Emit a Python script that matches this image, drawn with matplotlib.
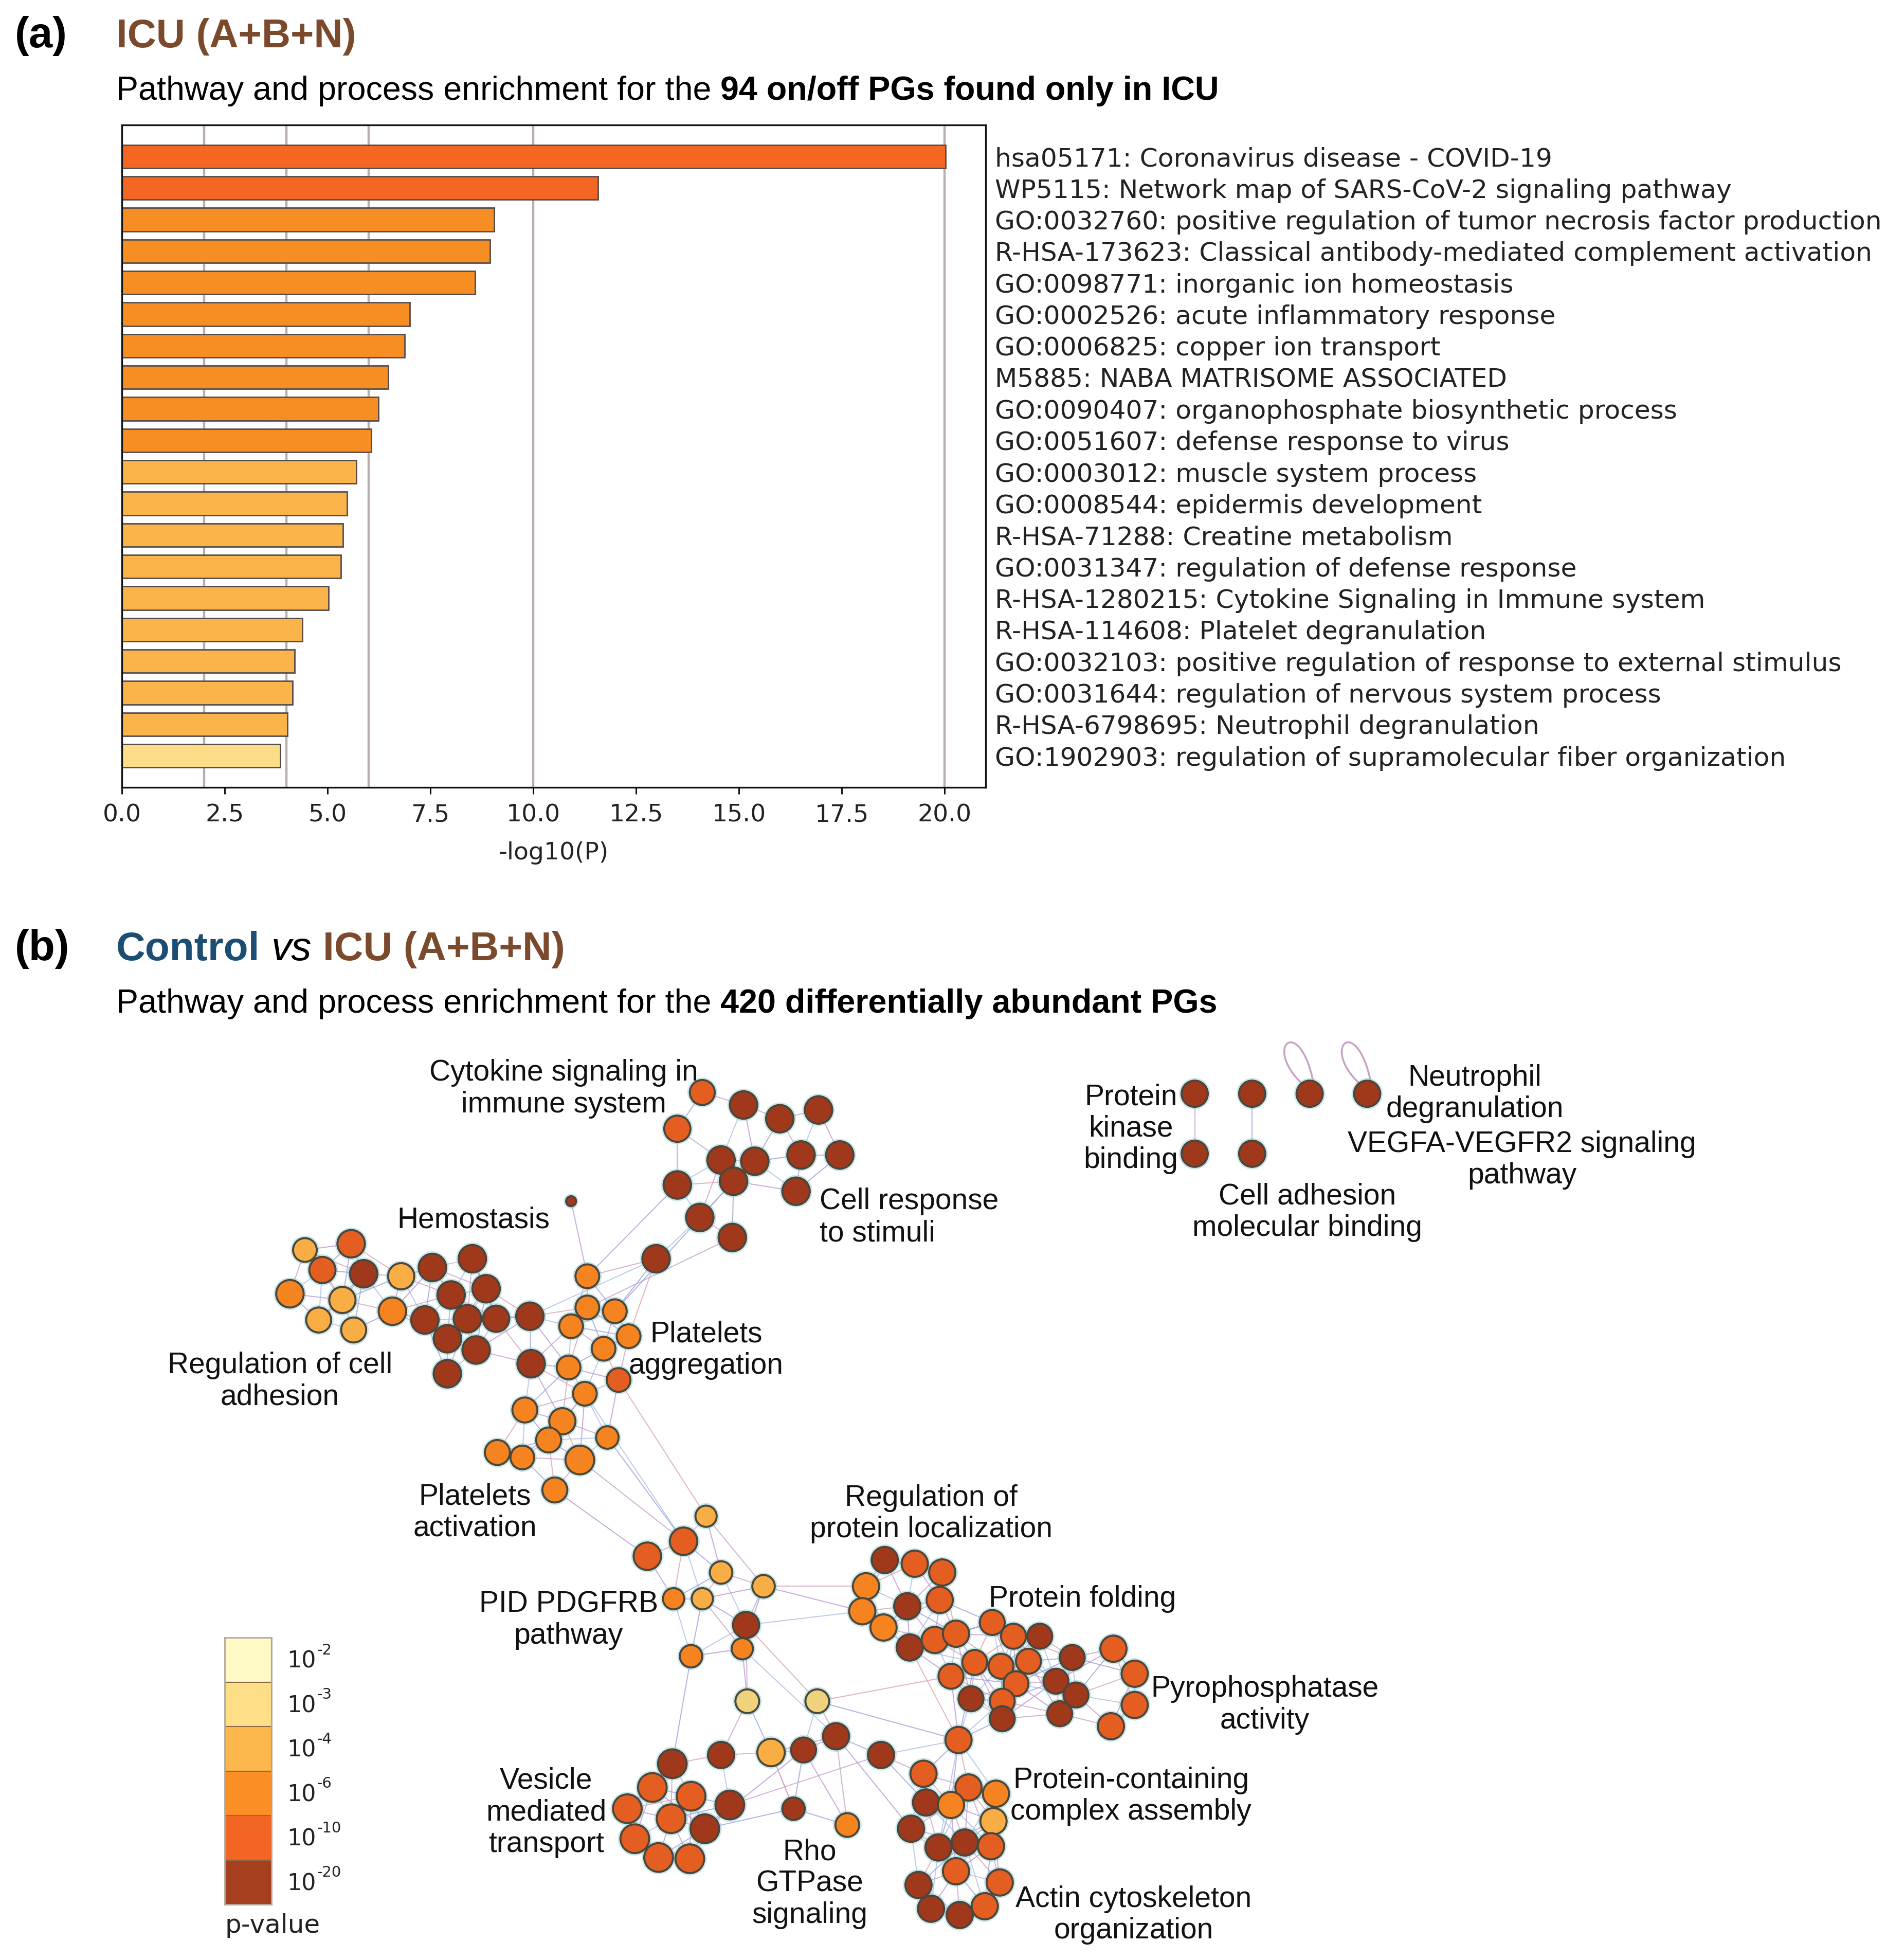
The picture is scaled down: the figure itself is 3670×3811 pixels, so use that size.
import numpy as np
import matplotlib
matplotlib.use("Agg")
import matplotlib.pyplot as plt
from matplotlib.path import Path
from matplotlib.patches import PathPatch, Rectangle
from matplotlib.collections import LineCollection
from matplotlib.ticker import FormatStrFormatter

# ------------------------------------------------------------------ data (a)
terms = [
    "hsa05171: Coronavirus disease - COVID-19",
    "WP5115: Network map of SARS-CoV-2 signaling pathway",
    "GO:0032760: positive regulation of tumor necrosis factor production",
    "R-HSA-173623: Classical antibody-mediated complement activation",
    "GO:0098771: inorganic ion homeostasis",
    "GO:0002526: acute inflammatory response",
    "GO:0006825: copper ion transport",
    "M5885: NABA MATRISOME ASSOCIATED",
    "GO:0090407: organophosphate biosynthetic process",
    "GO:0051607: defense response to virus",
    "GO:0003012: muscle system process",
    "GO:0008544: epidermis development",
    "R-HSA-71288: Creatine metabolism",
    "GO:0031347: regulation of defense response",
    "R-HSA-1280215: Cytokine Signaling in Immune system",
    "R-HSA-114608: Platelet degranulation",
    "GO:0032103: positive regulation of response to external stimulus",
    "GO:0031644: regulation of nervous system process",
    "R-HSA-6798695: Neutrophil degranulation",
    "GO:1902903: regulation of supramolecular fiber organization",
]
neglogp = [20.03, 11.58, 9.05, 8.95, 8.59, 7.00, 6.88, 6.47, 6.24, 6.06,
           5.70, 5.47, 5.38, 5.33, 5.02, 4.39, 4.20, 4.15, 4.02, 3.85]
xtick_values = [0.0, 2.5, 5.0, 7.5, 10.0, 12.5, 15.0, 17.5, 20.0]
grid_levels = [2, 4, 6, 10, 20]

# ------------------------------------------------------------------ data (b)
# network layout coordinates (layout units) and p-value class of each term node
# classes: D=1e-20, R=1e-10, O=1e-6, L=1e-4, Y=1e-3
node_group = (["A"] * 15 + ["dot"] + ["B"] * 22 + ["C"] * 9 + ["D"] * 8 + ["E"] * 10 +
              ["F"] * 7 + ["G"] * 10 + ["H"] * 2 + ["I"] * 11 + ["J"] * 15 + ["K"] * 4 +
              ["hub"] + ["M"] * 16 + ["N"] * 6)
node_x = [562, 595, 624, 655, 542, 577, 604, 641, 672, 542, 587, 637, 560, 586, 525,
          457,
          244, 281, 232, 258, 291, 274, 255, 283, 321, 314, 346, 378, 361, 389, 340, 374, 397, 358, 381, 358, 424, 425,
          470, 470, 492, 457, 503, 483, 455, 495, 468,
          420, 450, 439, 486, 398, 418, 464, 444,
          565, 547, 518, 577, 611, 539, 562, 597, 594, 553,
          598, 654, 669, 577, 617, 643, 705,
          538, 522, 553, 584, 502, 537, 564, 508, 527, 552,
          635, 678,
          708, 732, 754, 693, 726, 752, 690, 707, 728, 748, 765,
          794, 811, 832, 780, 801, 823, 761, 777, 813, 802, 802, 858, 845, 861, 848,
          891, 908, 908, 889,
          767,
          739, 775, 797, 741, 761, 795, 729, 751, 772, 793, 765, 735, 800, 745, 768, 788,
          956, 1002, 1048, 1094, 956, 1002]
node_y = [874, 884, 895, 888, 903, 928, 929, 924, 924, 948, 945, 953, 974, 990, 1007,
          961,
          1000, 995, 1035, 1016, 1019, 1040, 1056, 1064, 1021, 1049, 1014, 1007, 1036, 1031, 1056, 1055, 1055, 1071, 1080, 1099, 1053, 1091,
          1021, 1046, 1049, 1061, 1069, 1079, 1094, 1104, 1115,
          1128, 1137, 1152, 1150, 1162, 1166, 1168, 1192,
          1213, 1233, 1245, 1258, 1269, 1279, 1279, 1300, 1319, 1325,
          1361, 1361, 1389, 1404, 1402, 1400, 1404,
          1411, 1430, 1437, 1444, 1447, 1455, 1463, 1471, 1486, 1487,
          1447, 1460,
          1248, 1251, 1258, 1269, 1285, 1280, 1289, 1302, 1318, 1312, 1307,
          1298, 1309, 1309, 1330, 1333, 1329, 1341, 1359, 1347, 1361, 1375, 1326, 1345, 1356, 1371,
          1319, 1339, 1364, 1381,
          1392,
          1419, 1430, 1435, 1442, 1444, 1457, 1463, 1478, 1474, 1477, 1497, 1508, 1506, 1527, 1532, 1525,
          875, 875, 875, 875, 923, 923]
node_pclass = list("RDDDRDDDDDDDDDD" + "D" +
                   "LRORDLLLLODDDDDDDDDDDD" + "OOOOOOORO" + "OOOOOOOO" +
                   "LRRLLOLDOO" + "YYDDLDD" + "DRRDRRDRRR" + "DO" +
                   "DRRODROODRR" + "RRDRRRRDRRDDDDD" + "RRRR" + "R" +
                   "RRODOLDDDRRDRDDR" + "DDDDDD")
node_size = ([20, 22, 22, 22, 21, 22, 22, 22, 22, 22, 22, 22, 22, 22, 22] + [8] +
             [19, 22, 22, 21, 22, 21, 20, 20, 21, 22, 22, 22, 22, 22, 22, 22, 21, 22, 22, 22, 22, 22] +
             [19] * 9 + [20, 21, 20, 18, 20, 19, 23, 20] +
             [17, 22, 22, 18, 18, 17, 17, 21, 17, 18] + [19, 19, 21, 21, 22, 20, 21] +
             [23] * 10 + [18, 19] + [21] * 11 + [20] * 15 + [21] * 4 + [21] + [21] * 16 +
             [21] * 6)

# long-range network edges: (group, index, group, index)
long_edges = [
    ("dot", 0, "C", 0), ("A", 14, "C", 0), ("A", 14, "C", 2), ("A", 14, "C", 4),
    ("A", 14, "B", 20), ("A", 9, "C", 0), ("A", 13, "C", 1), ("A", 10, "C", 2),
    ("C", 7, "E", 0), ("C", 8, "E", 1), ("D", 7, "E", 2), ("D", 6, "E", 1), ("D", 3, "E", 1),
    ("E", 4, "I", 3), ("E", 7, "I", 6), ("E", 4, "I", 6), ("E", 0, "E", 4),
    ("E", 9, "G", 0), ("E", 7, "F", 1), ("E", 8, "F", 2), ("E", 8, "F", 0), ("E", 7, "F", 0),
    ("F", 1, "hub", 0), ("F", 1, "J", 6), ("F", 6, "hub", 0), ("F", 2, "M", 6), ("F", 6, "M", 0),
    ("F", 6, "M", 3), ("F", 3, "G", 0), ("F", 3, "G", 3), ("F", 5, "G", 6), ("G", 3, "F", 6),
    ("G", 6, "H", 0), ("H", 0, "F", 4), ("H", 0, "F", 5), ("H", 1, "F", 5), ("H", 1, "F", 2),
    ("hub", 0, "J", 3), ("hub", 0, "I", 8), ("hub", 0, "M", 7), ("I", 10, "J", 0),
    ("N", 0, "N", 4), ("N", 1, "N", 5),
]
self_loops = [("N", 2), ("N", 3)]
proximity_sets = [["A"], ["B", "C", "D", "dot"], ["E"], ["F", "H"], ["G"],
                  ["I", "J", "K", "hub", "M"]]

cluster_labels = [
    ("Cytokine signaling in\nimmune system", 451, 871, "center"),
    ("Hemostasis", 379, 976, "center"),
    ("Cell response\nto stimuli", 656, 974, "left"),
    ("Regulation of cell\nadhesion", 224, 1105, "center"),
    ("Platelets\naggregation", 565, 1080, "center"),
    ("Platelets\nactivation", 380, 1210, "center"),
    ("Regulation of\nprotein localization", 745, 1211, "center"),
    ("Protein folding", 866, 1279, "center"),
    ("PID PDGFRB\npathway", 455, 1296, "center"),
    ("Pyrophosphatase\nactivity", 1012, 1364, "center"),
    ("Vesicle\nmediated\ntransport", 437, 1450, "center"),
    ("Rho\nGTPase\nsignaling", 648, 1507, "center"),
    ("Protein-containing\ncomplex assembly", 905, 1437, "center"),
    ("Actin cytoskeleton\norganization", 907, 1532, "center"),
    ("Protein\nkinase\nbinding", 905, 903, "center"),
    ("Cell adhesion\nmolecular binding", 1046, 970, "center"),
    ("Neutrophil\ndegranulation", 1180, 875, "center"),
    ("VEGFA-VEGFR2 signaling\npathway", 1218, 928, "center"),
]
legend_exponents = ["-2", "-3", "-4", "-6", "-10", "-20"]

# ------------------------------------------------------------------ styles
legend_colors = ["#FFF9C5", "#FEDF87", "#FDB84D", "#FB8E25", "#F26522", "#A63F1E"]
node_colors = {"D": "#A0381C", "R": "#E35E20", "O": "#F5831F", "L": "#F9AE45", "Y": "#F0D27C"}
BROWN = "#7B4A2D"
BLUE = "#1C4E73"
TXT_FONT = ["Liberation Sans", "DejaVu Sans"]

W, H = 3670, 3811
DPI = 100
fig = plt.figure(figsize=(W / DPI, H / DPI), dpi=DPI)
fig.patch.set_facecolor("white")

# layout axes spanning the whole figure (layout units: 1510 x 1568)
LW_, LH_ = 1510.0, 3811 * 1510.0 / 3670
axn = fig.add_axes([0, 0, 1, 1])
axn.set_xlim(0, LW_)
axn.set_ylim(LH_, 0)
axn.axis("off")
axn.patch.set_alpha(0)

renderer = fig.canvas.get_renderer()
px_per_unit = W / LW_


def rich_text(ax, x, y, parts, size):
    gap = 0.278 * size * DPI / 72 / px_per_unit
    for s, props in parts:
        t = ax.text(x, y, s, fontsize=size, va="baseline", ha="left",
                    family=TXT_FONT, **props)
        bb = t.get_window_extent(renderer)
        x = ax.transData.inverted().transform((bb.x1, bb.y0))[0] + gap


# ---- headers
axn.text(12, 38, "(a)", fontsize=60, fontweight="bold", family=TXT_FONT, va="baseline")
rich_text(axn, 93, 38, [("ICU (A+B+N)", dict(fontweight="bold", color=BROWN))], 56)
rich_text(axn, 93, 80, [("Pathway and process enrichment for the", {}),
                        ("94 on/off PGs found only in ICU", dict(fontweight="bold"))], 46.5)
axn.text(12, 768, "(b)", fontsize=60, fontweight="bold", family=TXT_FONT, va="baseline")
rich_text(axn, 93, 768, [("Control", dict(fontweight="bold", color=BLUE)),
                         ("vs", dict(style="italic")),
                         ("ICU (A+B+N)", dict(fontweight="bold", color=BROWN))], 56.5)
rich_text(axn, 93, 810, [("Pathway and process enrichment for the", {}),
                         ("420 differentially abundant PGs", dict(fontweight="bold"))], 46.5)

# ---- panel (a) bar chart
ax = fig.add_axes([237 / W, 1 - 1531 / H, 1680 / W, 1288 / H])
bar_cols = []
for v in neglogp:
    if v >= 10:
        bar_cols.append("#F36723")
    elif v >= 6:
        bar_cols.append("#F78E24")
    elif v >= 4:
        bar_cols.append("#FBB449")
    else:
        bar_cols.append("#FDDE88")
ypos = np.arange(len(terms))
for g in grid_levels:
    ax.axvline(g, color="#B9B0AE", lw=3.2, zorder=0)
ax.barh(ypos, neglogp, height=0.74, color=bar_cols, edgecolor="#554B4B", linewidth=2.0, zorder=2)
ax.set_xlim(0, 21)
ax.set_ylim(len(terms), -1)
ax.set_yticks(ypos)
ax.set_yticklabels(terms, fontsize=36.2, family="DejaVu Sans", color="#222222")
ax.yaxis.tick_right()
ax.tick_params(axis="y", length=0, pad=13)
ax.set_xticks(xtick_values)
ax.xaxis.set_major_formatter(FormatStrFormatter("%.1f"))
ax.tick_params(axis="x", labelsize=34, length=9, width=2, pad=14, labelcolor="#222222")
for lab in ax.get_xticklabels():
    lab.set_family("DejaVu Sans")
ax.set_xlabel("-log10(P)", fontsize=34, family="DejaVu Sans", labelpad=20, color="#222222")
for sp in ax.spines.values():
    sp.set_linewidth(2.4)
    sp.set_color("#111111")

# ---- panel (b) network
nx = np.array(node_x, float)
ny = np.array(node_y, float)
idx_of = {}
for i, g in enumerate(node_group):
    idx_of.setdefault(g, []).append(i)

edge_pairs = []
for sset in proximity_sets:
    members = [i for g in sset for i in idx_of[g]]
    for a in range(len(members)):
        for b in range(a + 1, len(members)):
            i, j = members[a], members[b]
            if np.hypot(nx[i] - nx[j], ny[i] - ny[j]) < 54:
                edge_pairs.append((i, j))
for g1, k1, g2, k2 in long_edges:
    edge_pairs.append((idx_of[g1][k1], idx_of[g2][k2]))

edge_palette = ["#C9A3CB", "#9FA4DE", "#DBA5B8", "#AFC0E6", "#BE98D6"]
segs = [[(nx[i], ny[i]), (nx[j], ny[j])] for i, j in edge_pairs]
ecols = [edge_palette[k % len(edge_palette)] for k in range(len(segs))]
axn.add_collection(LineCollection(segs, colors=ecols, linewidths=1.5, alpha=0.8, zorder=1))

for g, k in self_loops:
    i = idx_of[g][k]
    x0, y0 = nx[i], ny[i]
    verts = [(x0 - 6, y0 - 8), (x0 - 38, y0 - 38), (x0 - 8, y0 - 64), (x0 + 3, y0 - 9)]
    p = Path(verts, [Path.MOVETO, Path.CURVE4, Path.CURVE4, Path.CURVE4])
    axn.add_patch(PathPatch(p, fc="none", ec="#C8A2C6", lw=2.6, zorder=1))

diam_pt = np.array(node_size, float) * px_per_unit * 72 / DPI
cols = [node_colors[c] for c in node_pclass]
axn.scatter(nx, ny, s=(diam_pt + 7) ** 2, c="#7FC4C4", alpha=0.4, linewidths=0, zorder=2)
axn.scatter(nx, ny, s=diam_pt ** 2, c=cols, edgecolors="#4A463C", linewidths=2.8, zorder=3)

for text, x, y, ha in cluster_labels:
    axn.text(x, y, text, fontsize=41, family=TXT_FONT, ha=ha, va="center",
             multialignment=ha, linespacing=1.18, color="#111111", zorder=5)

# ---- p-value legend
axl = fig.add_axes([437 / W, 1 - 3703 / H, 91 / W, 519 / H])
n = len(legend_colors)
for k, c in enumerate(legend_colors):
    axl.add_patch(Rectangle((0, k), 1, 1, facecolor=c, edgecolor="#8C6A4A", lw=1.5))
axl.set_xlim(0, 1)
axl.set_ylim(n, 0)
axl.set_xticks([])
axl.set_yticks([])
for sp in axl.spines.values():
    sp.set_color("#B0A89A")
    sp.set_linewidth(2)
for k, ex in enumerate(legend_exponents):
    base = axl.text(1.33, k + 0.68, "10", fontsize=32, family="DejaVu Sans", va="baseline",
                    ha="left", color="#222222")
    bb = base.get_window_extent(renderer)
    xe = axl.transData.inverted().transform((bb.x1 + 2, bb.y0))[0]
    axl.text(xe, k + 0.38, ex, fontsize=21, family="DejaVu Sans", va="baseline", ha="left",
             color="#222222")
axl.text(0.0, n + 0.47, "p-value", fontsize=36, family="DejaVu Sans", va="center", ha="left",
         color="#222222")

fig.savefig("out.png", dpi=DPI, facecolor="white")
